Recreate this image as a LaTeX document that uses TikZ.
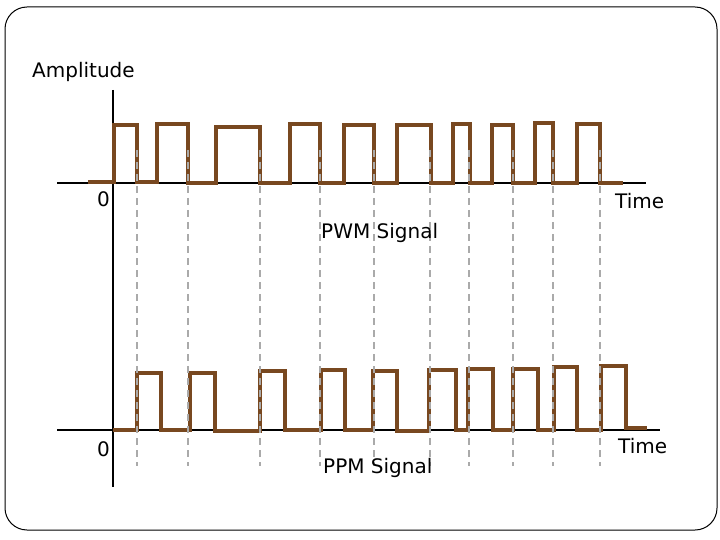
\documentclass[tikz,border=0pt]{standalone}
\usepackage{fontspec}
\setmainfont{DejaVu Sans}
\definecolor{sig}{RGB}{120,72,32}
\definecolor{dashgray}{RGB}{170,170,170}
\begin{document}
\begin{tikzpicture}[x=1pt,y=-1pt,
  axis/.style={line width=2pt,black},
  signal/.style={line width=3.4pt,sig,line join=miter},
  guide/.style={line width=2pt,dashgray,dash pattern=on 7pt off 5pt},
  lbl/.style={font=\fontsize{20}{23}\selectfont,inner sep=0pt,anchor=base west}]
\useasboundingbox (0,0) rectangle (720,540);
\draw[line width=1pt,rounded corners=22pt] (5,7) rectangle (717,530);
% axes
\draw[axis] (113,90) -- (113,487);
\draw[axis] (57,183) -- (646,183);
\draw[axis] (57,430) -- (660,430);
% PWM signal
\draw[signal] (88,182) -- (114,182) -- (114,125) -- (137,125) -- (137,182) -- (157,182) -- (157,124) -- (188,124) -- (188,183) -- (216,183) -- (216,127) -- (260,127) -- (260,183) -- (290,183) -- (290,124) -- (320,124) -- (320,183) -- (344,183) -- (344,125) -- (374,125) -- (374,183) -- (397,183) -- (397,125) -- (431,125) -- (431,183) -- (453,183) -- (453,124) -- (470,124) -- (470,183) -- (492,183) -- (492,125) -- (513,125) -- (513,183) -- (535,183) -- (535,123) -- (553,123) -- (553,183) -- (577,183) -- (577,124) -- (600,124) -- (600,183) -- (623,183);
% PPM signal
\draw[signal] (113,430) -- (137,430) -- (137,373) -- (161,373) -- (161,430) -- (190,430) -- (190,373) -- (215,373) -- (215,431) -- (260,431) -- (260,371) -- (285,371) -- (285,430) -- (321,430) -- (321,370) -- (345,370) -- (345,430) -- (373,430) -- (373,371) -- (397,371) -- (397,431) -- (429,431) -- (429,370) -- (456,370) -- (456,430) -- (468,430) -- (468,369) -- (493,369) -- (493,430) -- (513,430) -- (513,369) -- (538,369) -- (538,430) -- (554,430) -- (554,367) -- (577,367) -- (577,430) -- (601,430) -- (601,366) -- (626,366) -- (626,428) -- (647,428);
% guide lines
\foreach \x in {137,188,260,320,374,430,469,513,553,600}
  \draw[guide] (\x,150) -- (\x,466);
% labels
\node[lbl] (amp) at (32,78) {Amplitude};
\node[lbl] (z1) at (97,207) {0};
\node[lbl] (t1) at (615,208) {Time};
\node[lbl] (pwm) at (321,238) {PWM Signal};
\node[lbl] (z2) at (97,456) {0};
\node[lbl] (t2) at (618,453) {Time};
\node[lbl] (ppm) at (323,473) {PPM Signal};
\end{tikzpicture}
\end{document}
